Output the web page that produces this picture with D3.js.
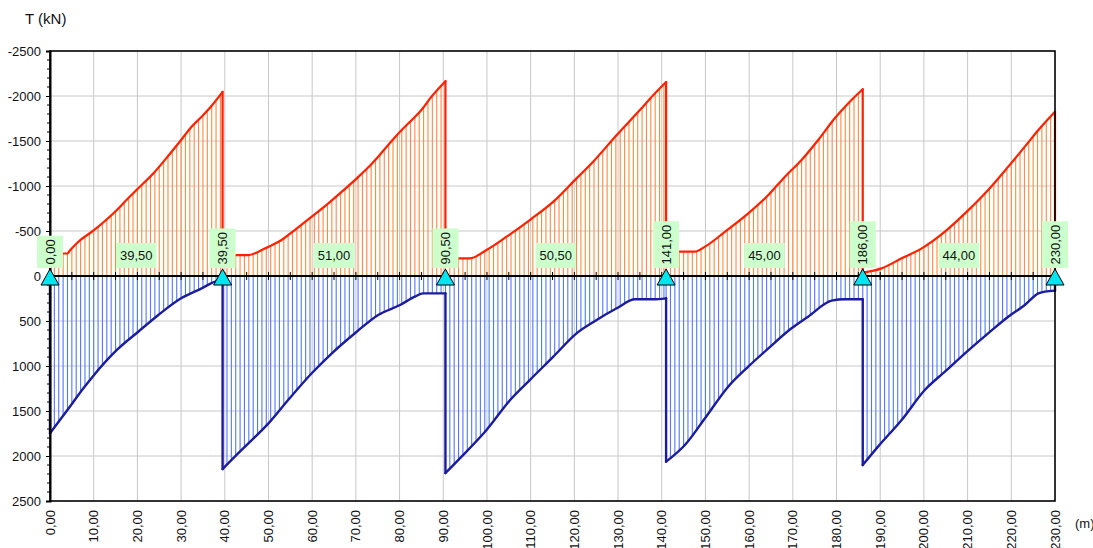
<!DOCTYPE html>
<html>
<head>
<meta charset="utf-8">
<script src="https://cdn.jsdelivr.net/npm/d3@7"></script>
<style>
  html, body { margin: 0; padding: 0; background: #fff; }
  svg { display: block; font-family: "Liberation Sans", Arial, sans-serif; }
</style>
</head>
<body>
<svg id="chart" width="1093" height="548"></svg>
<script>
// Support positions along the girder (m)
const supports = [0, 39.5, 90.5, 141, 186, 230];

// Axis ticks
const xTicks = d3.range(0, 231, 10);
const yTicks = [-2500, -2000, -1500, -1000, -500, 0, 500, 1000, 1500, 2000, 2500];

// Minimum envelope of T (kN), negative values drawn upward
const tMinX = [0, 4, 4.5, 6.5, 9.9, 15.3, 17.5, 20.2, 24, 26.3, 30, 32.4, 34.7, 37, 39.5,
  39.5, 45.4, 47.7, 50, 53, 56, 59.9, 63.7, 66.8, 70.2, 72.8, 75.1, 77.4, 80.1, 82.8, 85, 87.3, 90.5,
  90.5, 96.1, 99.9, 104.5, 109.8, 115.2, 120.5, 124.3, 129.7, 135, 138.1, 141,
  141, 147.6, 149.9, 154.5, 159.8, 164.4, 168.2, 172, 175.8, 179.6, 182.7, 186,
  186, 190.3, 194.9, 199.5, 204.8, 209.4, 214.7, 219.3, 223.1, 226.2, 230];
const tMinKN = [-250, -250, -280, -381, -503, -733, -844, -974, -1159, -1290, -1511, -1659, -1770, -1892, -2045,
  -233, -233, -270, -326, -400, -511, -659, -807, -937, -1085, -1205, -1326, -1456, -1604, -1733, -1844, -1993, -2165,
  -196, -196, -289, -437, -622, -826, -1085, -1270, -1567, -1844, -2011, -2155,
  -270, -270, -326, -493, -696, -900, -1104, -1289, -1511, -1752, -1919, -2075,
  -37, -85, -196, -307, -493, -696, -956, -1215, -1437, -1622, -1825];

// Maximum envelope of T (kN), positive values drawn downward
const tMaxX = [0, 4.2, 7.6, 9.9, 15.3, 20.2, 24.8, 30, 34.7, 37.8, 39.5,
  39.5, 42.3, 45.4, 50, 54.5, 59.9, 64.5, 70.2, 75.1, 80.1, 83.5, 85.4, 90.5,
  90.5, 93.8, 99.9, 105.3, 109.8, 115.2, 120.5, 125.1, 129.7, 133.9, 138.1, 141,
  141, 145.3, 149.9, 155.2, 159.8, 164.4, 169.7, 173.5, 178.9, 181.9, 186,
  186, 189.5, 194.9, 200.2, 204.8, 209.4, 214.7, 219.3, 223.1, 226.2, 227.7, 230];
const tMaxKN = [1748, 1475, 1250, 1110, 822, 619, 433, 248, 137, 63, 44,
  2145, 2007, 1859, 1637, 1378, 1081, 859, 619, 433, 322, 230, 193, 193,
  2190, 2026, 1711, 1378, 1156, 896, 637, 489, 359, 259, 259, 248,
  2063, 1878, 1581, 1230, 1007, 804, 581, 452, 274, 259, 259,
  2100, 1896, 1600, 1267, 1063, 859, 637, 452, 322, 193, 174, 163];

const stationStep = 1; // spacing of the hatch stations (m)

const fmt = d => d.toFixed(2).replace('.', ',');

const svg = d3.select('#chart');
const x = d3.scaleLinear().domain([0, 230]).range([50, 1055]);
const y = d3.scaleLinear().domain([-2500, 2500]).range([51, 501]);
const y0 = y(0);

// Grid
const grid = svg.append('g').attr('stroke', '#c8c8c8').attr('stroke-width', 1);
grid.selectAll('line.v').data(xTicks.slice(1, -1)).join('line')
  .attr('x1', d => x(d)).attr('x2', d => x(d)).attr('y1', y(-2500)).attr('y2', y(2500));
grid.selectAll('line.h').data(yTicks.slice(1, -1)).join('line')
  .attr('x1', x(0)).attr('x2', x(230)).attr('y1', d => y(d)).attr('y2', d => y(d));

// Hatch stations: every metre from each span start, plus the span end
const stations = [];
for (let i = 0; i < supports.length - 1; i++) {
  for (let p = supports[i]; p < supports[i + 1] - 1e-6; p += stationStep) stations.push(p);
}
stations.push(supports[supports.length - 1]);

// Split an envelope into per-span pieces at the jumps over the supports
function pieces(xs, vs) {
  const out = [];
  let cur = [];
  xs.forEach((px, i) => {
    if (i > 0 && px === xs[i - 1]) { out.push(cur); cur = []; }
    cur.push([px, vs[i]]);
  });
  out.push(cur);
  return out;
}
const minPieces = pieces(tMinX, tMinKN);
const maxPieces = pieces(tMaxX, tMaxKN);

const curve = d3.curveMonotoneX;
const area = d3.area().curve(curve).x(d => x(d[0])).y0(y0).y1(d => y(d[1]));
const line = d3.line().curve(curve).x(d => x(d[0])).y(d => y(d[1]));

const defs = svg.append('defs');
const clipMin = defs.append('clipPath').attr('id', 'clipMin');
minPieces.forEach(p => clipMin.append('path').attr('d', area(p)));
const clipMax = defs.append('clipPath').attr('id', 'clipMax');
maxPieces.forEach(p => clipMax.append('path').attr('d', area(p)));

svg.append('g').attr('clip-path', 'url(#clipMin)')
  .selectAll('line').data(stations).join('line')
  .attr('x1', d => x(d)).attr('x2', d => x(d)).attr('y1', y(-2500)).attr('y2', y0)
  .attr('stroke', '#ff8a3c').attr('stroke-width', 1.1);
svg.append('g').attr('clip-path', 'url(#clipMax)')
  .selectAll('line').data(stations).join('line')
  .attr('x1', d => x(d)).attr('x2', d => x(d)).attr('y1', y0).attr('y2', y(2500))
  .attr('stroke', '#4f78ff').attr('stroke-width', 1.1);

// Envelope curves: smooth per span, joined by vertical jumps, closed to zero at both ends
function drawEnvelope(ps, color, width) {
  const g = svg.append('g').attr('fill', 'none').attr('stroke', color)
    .attr('stroke-width', width).attr('stroke-linejoin', 'round').attr('stroke-linecap', 'round');
  ps.forEach(p => g.append('path').attr('d', line(p)));
  const joins = [[[ps[0][0][0], 0], ps[0][0]]];
  for (let i = 1; i < ps.length; i++) joins.push([ps[i - 1][ps[i - 1].length - 1], ps[i][0]]);
  const last = ps[ps.length - 1];
  joins.push([last[last.length - 1], [last[last.length - 1][0], 0]]);
  g.selectAll('line').data(joins).join('line')
    .attr('x1', d => x(d[0][0])).attr('y1', d => y(d[0][1]))
    .attr('x2', d => x(d[1][0])).attr('y2', d => y(d[1][1]));
}
drawEnvelope(minPieces, '#ff2000', 2.2);
drawEnvelope(maxPieces, '#1c1ca0', 2.4);

// Zero line with small ticks every 5 m
svg.append('line').attr('x1', x(0)).attr('x2', x(230)).attr('y1', y0).attr('y2', y0)
  .attr('stroke', '#000').attr('stroke-width', 2);
svg.append('g').selectAll('line').data(d3.range(5, 230, 5)).join('line')
  .attr('x1', d => x(d)).attr('x2', d => x(d)).attr('y1', y0 - 4).attr('y2', y0 + 4)
  .attr('stroke', '#000').attr('stroke-width', 1);

// Frame
svg.append('rect').attr('x', x(0)).attr('y', y(-2500)).attr('width', x(230) - x(0)).attr('height', y(2500) - y(-2500))
  .attr('fill', 'none').attr('stroke', '#000').attr('stroke-width', 1.6);

// Y axis with minor ticks
const yAxis = d3.axisLeft(y).tickValues(yTicks).tickFormat(d => String(d)).tickSize(4).tickPadding(5);
const gy = svg.append('g').attr('transform', `translate(${x(0)},0)`).call(yAxis);
gy.select('.domain').attr('stroke-width', 2);
gy.selectAll('text').attr('font-size', 13).attr('fill', '#111').attr('font-family', '"Liberation Sans", Arial, sans-serif');
svg.append('g').selectAll('line').data(d3.range(-2500, 2501, 100).filter(d => d % 500 !== 0)).join('line')
  .attr('x1', x(0) - 3).attr('x2', x(0)).attr('y1', d => y(d)).attr('y2', d => y(d))
  .attr('stroke', '#000').attr('stroke-width', 1);

// X tick labels, rotated
svg.append('g').selectAll('text').data(xTicks).join('text')
  .attr('transform', d => `translate(${x(d)},510) rotate(-90)`)
  .attr('text-anchor', 'end').attr('dy', '0.35em')
  .attr('font-size', 13).attr('fill', '#111').text(fmt);

// Axis titles
svg.append('text').attr('x', 25).attr('y', 24).attr('font-size', 15).attr('fill', '#111').text('T (kN)');
svg.append('text').attr('x', 1075).attr('y', 528).attr('font-size', 13).attr('fill', '#111').text('(m)');

// Supports
svg.append('g').selectAll('path').data(supports).join('path')
  .attr('d', d => `M${x(d)},${y0 - 7}L${x(d) + 9},${y0 + 9}L${x(d) - 9},${y0 + 9}Z`)
  .attr('fill', '#00e6f0').attr('stroke', '#000').attr('stroke-width', 1);

// Support position labels (rotated, boxed)
const labelBottom = 268;
const supG = svg.append('g').selectAll('g').data(supports).join('g');
supG.each(function (d) {
  const g = d3.select(this);
  const t = g.append('text')
    .attr('transform', `translate(${x(d)},${labelBottom - 3.5}) rotate(-90)`)
    .attr('text-anchor', 'start').attr('dy', '0.36em')
    .attr('font-size', 13).attr('fill', '#111').text(fmt(d));
  const len = t.node().getComputedTextLength();
  g.insert('rect', 'text')
    .attr('x', x(d) - 13).attr('y', labelBottom - len - 7).attr('width', 26).attr('height', len + 7)
    .attr('fill', '#ccffcc');
});

// Span length labels
const spans = supports.slice(1).map((s, i) => ({ a: supports[i], b: s, len: s - supports[i] }));
const spanG = svg.append('g').selectAll('g').data(spans).join('g');
spanG.each(function (d) {
  const g = d3.select(this);
  const cx = x((d.a + d.b) / 2);
  const t = g.append('text').attr('x', cx).attr('y', labelBottom - 12.5).attr('dy', '0.36em')
    .attr('text-anchor', 'middle').attr('font-size', 13).attr('fill', '#111').text(fmt(d.len));
  const len = t.node().getComputedTextLength();
  g.insert('rect', 'text')
    .attr('x', cx - len / 2 - 4).attr('y', labelBottom - 25).attr('width', len + 8).attr('height', 25)
    .attr('fill', '#ccffcc');
});
</script>
</body>
</html>
